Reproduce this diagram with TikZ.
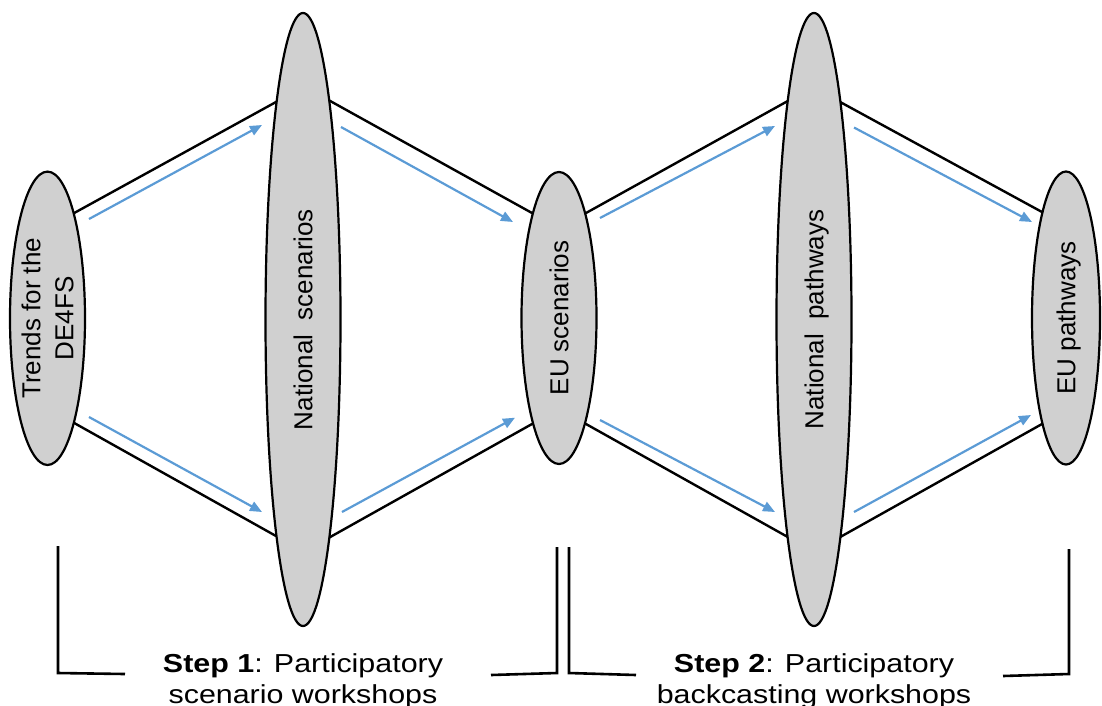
\documentclass[tikz,border=0pt]{standalone}
\usepackage{fontspec}
\setmainfont{Liberation Sans}
\newfontfamily\stepfont{Liberation Sans}[FakeStretch=1.17]
\usetikzlibrary{shapes.geometric,arrows.meta,calc,backgrounds}
\definecolor{ovalfill}{RGB}{208,208,208}
\definecolor{flowblue}{RGB}{91,155,213}
\begin{document}
\begin{tikzpicture}[x=1pt,y=-1pt,
  stage/.style={ellipse, draw=black, line width=2.2pt, fill=ovalfill, inner sep=0pt},
  stagetext/.style={rotate=90, font=\fontsize{26}{33}\selectfont, align=center, inner sep=0pt},
  link/.style={line width=2.4pt, draw=black, shorten <=-4pt, shorten >=-4pt},
  flow/.style={line width=2.2pt, draw=flowblue, -{Triangle[length=12pt,width=10pt]}},
  bracket/.style={line width=2.6pt, draw=black},
  steptext/.style={font=\stepfont\fontsize{26}{31}\selectfont, anchor=base, inner sep=0pt}]

\useasboundingbox (0,0) rectangle (1102,705);

% stages: scenario step and backcasting step
\node[stage, minimum width=75pt, minimum height=293.4pt] (T) at (47.5,318.3) {};
\node[stage, minimum width=75pt, minimum height=613pt]   (N) at (303,319.5) {};
\node[stage, minimum width=75pt, minimum height=292pt]   (E) at (559,318) {};
\node[stage, minimum width=75pt, minimum height=613pt]   (P) at (814,319.5) {};
\node[stage, minimum width=68pt, minimum height=293pt]   (U) at (1066,318) {};

% stage labels, reading bottom to top
\node[stagetext] (tT) at (T.center) {Trends for the\\DE4FS};
\node[stagetext, text depth=0pt] (tN) at (N.center) {National\ \ scenarios};
\node[stagetext, text depth=0pt] (tE) at (E.center) {EU scenarios};
\node[stagetext, text depth=0pt] (tP) at (P.center) {National\ \ pathways};
\node[stagetext, text depth=0pt] (tU) at (U.center) {EU pathways};

% outline of the funnels, tucked behind the stages
\begin{scope}[on background layer]
\draw[link] ($(T.center)+(28.5,-106.3)$) -- ($(N.center)+(-27,-217.5)$);
\draw[link] ($(N.center)+(29,-217.5)$)   -- ($(E.center)+(-27,-105)$);
\draw[link] ($(T.center)+(28.5,105.7)$)  -- ($(N.center)+(-27,216.5)$);
\draw[link] ($(N.center)+(29,216.5)$)    -- ($(E.center)+(-27,106)$);
\draw[link] ($(E.center)+(27,-105)$)     -- ($(P.center)+(-28,-217.5)$);
\draw[link] ($(P.center)+(28,-216.5)$)   -- ($(U.center)+(-24,-106)$);
\draw[link] ($(E.center)+(27,106)$)      -- ($(P.center)+(-28,216.5)$);
\draw[link] ($(P.center)+(28,216.5)$)    -- ($(U.center)+(-24,106)$);
\end{scope}

% flow arrows
\draw[flow] ($(T.center)+(41.5,-99.3)$) -- ($(N.center)+(-41,-194.5)$);
\draw[flow] ($(N.center)+(38,-192.5)$)  -- ($(E.center)+(-46,-96)$);
\draw[flow] ($(T.center)+(41.5,98.7)$)  -- ($(N.center)+(-41,192.5)$);
\draw[flow] ($(N.center)+(39,192.5)$)   -- ($(E.center)+(-44,99.7)$);
\draw[flow] ($(E.center)+(41,-100)$)    -- ($(P.center)+(-39,-193.5)$);
\draw[flow] ($(P.center)+(40,-192)$)    -- ($(U.center)+(-34,-96)$);
\draw[flow] ($(E.center)+(41,102)$)     -- ($(P.center)+(-39,192.5)$);
\draw[flow] ($(P.center)+(40,192.5)$)   -- ($(U.center)+(-35,97)$);

% brackets under the two steps
\draw[bracket] (58,546) -- (58,673) -- (125,674);
\draw[bracket] (491,675) -- (557,673) -- (557,547);
\draw[bracket] (569,547) -- (569,673) -- (636,675);
\draw[bracket] (1003,676) -- (1069,674) -- (1069,549);

% step captions
\node[steptext] (s1) at (N.center |- 0,672)
  {\begin{tabular}[t]{@{}c@{}}\textbf{Step 1}: Participatory\\scenario workshops\end{tabular}};
\node[steptext] (s2) at (P.center |- 0,672)
  {\begin{tabular}[t]{@{}c@{}}\textbf{Step 2}: Participatory\\backcasting workshops\end{tabular}};
\end{tikzpicture}
\end{document}
